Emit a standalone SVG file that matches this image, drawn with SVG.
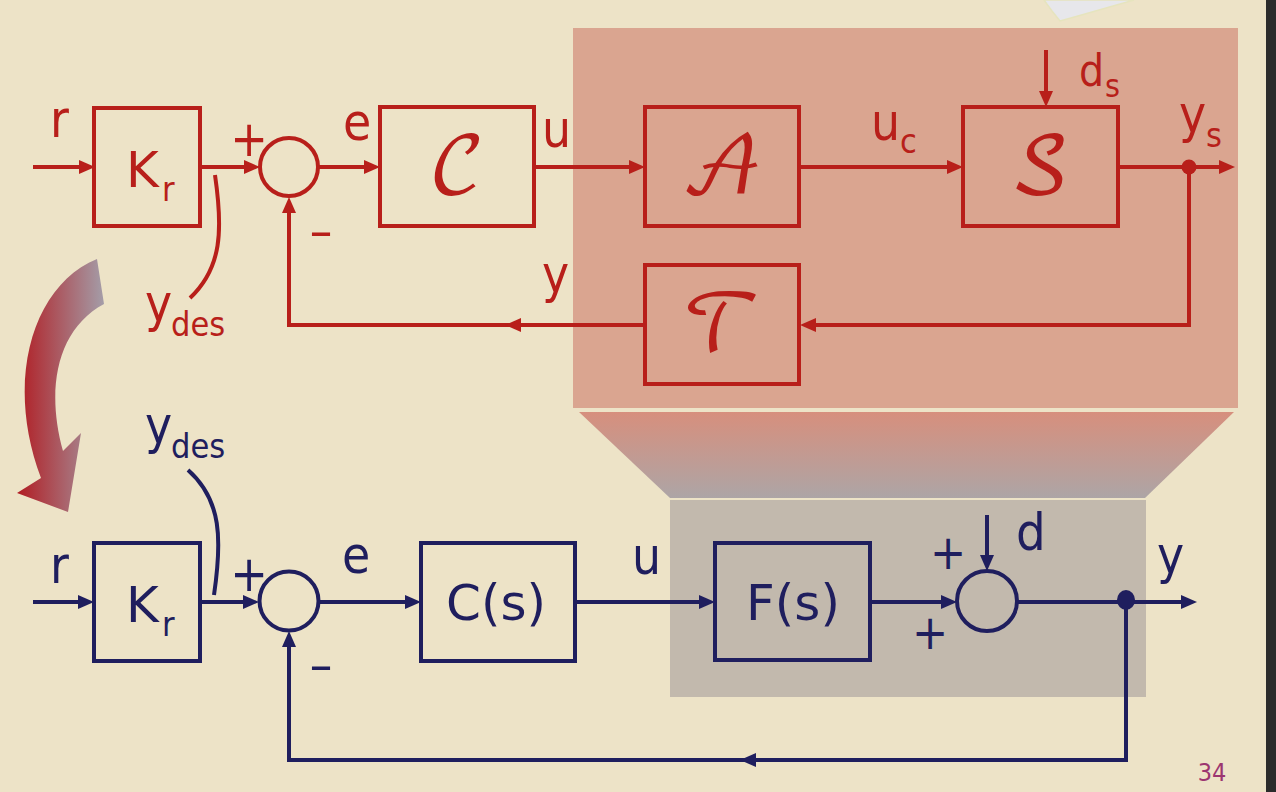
<svg xmlns="http://www.w3.org/2000/svg" width="1276" height="792" viewBox="0 0 1276 792">
<defs>
<style>
.rl{stroke:#B81F1A;stroke-width:4;fill:none}
.nl{stroke:#1F1E5E;stroke-width:4;fill:none}
.rbox{stroke:#B81F1A;stroke-width:4;fill:none}
.nbox{stroke:#1F1E5E;stroke-width:4;fill:none}
text{font-family:"DejaVu Sans Condensed","DejaVu Sans",sans-serif;font-stretch:condensed}
.rt{fill:#B81F1A}
.nt{fill:#1F1E5E}
.lab{font-size:51px}
.sub{font-size:34px}
.big{font-family:"DejaVu Sans",sans-serif;font-stretch:normal;font-size:50px}
.scr{font-family:"DejaVu Math TeX Gyre","Noto Sans Math","DejaVu Serif",serif;font-size:78px;text-anchor:middle;fill:#B81F1A}
</style>
<marker id="ar" markerUnits="userSpaceOnUse" markerWidth="16" markerHeight="14" refX="4" refY="7" orient="auto" viewBox="0 0 16 14">
<path d="M0,0 L16,7 L0,14 Z" fill="#B81F1A"/>
</marker>
<marker id="an" markerUnits="userSpaceOnUse" markerWidth="16" markerHeight="14" refX="4" refY="7" orient="auto" viewBox="0 0 16 14">
<path d="M0,0 L16,7 L0,14 Z" fill="#1F1E5E"/>
</marker>
<linearGradient id="bigArrow" x1="0" y1="0" x2="1" y2="0">
<stop offset="0" stop-color="#B11C22"/>
<stop offset="1" stop-color="#A49DA8"/>
</linearGradient>
<linearGradient id="trap" x1="0" y1="0" x2="0" y2="1">
<stop offset="0" stop-color="#D78F7D"/>
<stop offset="1" stop-color="#ADA5A6"/>
</linearGradient>
</defs>

<rect x="0" y="0" width="1276" height="792" fill="#EDE3C7"/>
<rect x="1266" y="0" width="10" height="792" fill="#2B2B2B"/>
<polygon points="1044,0 1134,0 1078,16 1060,21 1052,11" fill="#E7E7EB" stroke="#E6E4BE" stroke-width="1.5"/>

<g id="shading">
<rect x="573" y="28" width="665" height="380" fill="#DAA590"/>
<polygon points="579,412 1234,412 1145,498 670,498" fill="url(#trap)"/>
<rect x="670" y="500" width="476" height="197" fill="#C2B9AD"/>
</g>

<g id="transform-arrow">
<path d="M97,259 C33,285 4,380 41,478 L17,493 L68,512 L81,433 L63,451 C46,390 56,330 104,304 Z" fill="url(#bigArrow)"/>
</g>

<g id="connectors">
<path class="rl" d="M33,167 H83" marker-end="url(#ar)"/>
<path class="rl" d="M200,167 H248" marker-end="url(#ar)"/>
<path class="rl" d="M318,167 H368" marker-end="url(#ar)"/>
<path class="rl" d="M534,167 H633" marker-end="url(#ar)"/>
<path class="rl" d="M800,167 H951" marker-end="url(#ar)"/>
<path class="rl" d="M1118,167 H1223" marker-end="url(#ar)"/>
<path class="rl" d="M1046,50 V95" marker-end="url(#ar)"/>
<path class="rl" d="M1189,167 V325 H812" marker-end="url(#ar)"/>
<path class="rl" d="M645,325 H289 V209" marker-end="url(#ar)"/>
<path class="rl" d="M520,325 H517" marker-end="url(#ar)"/>
<circle cx="1189" cy="167" r="7.5" fill="#B81F1A"/>
<path class="rl" stroke-width="3" d="M215,175 C223,230 222,268 190,298"/>

<path class="nl" d="M33,602 H82" marker-end="url(#an)"/>
<path class="nl" d="M200,602 H247" marker-end="url(#an)"/>
<path class="nl" d="M319,602 H409" marker-end="url(#an)"/>
<path class="nl" d="M575,602 H703" marker-end="url(#an)"/>
<path class="nl" d="M870,602 H945" marker-end="url(#an)"/>
<path class="nl" d="M987,515 V559" marker-end="url(#an)"/>
<path class="nl" d="M1017,602 H1185" marker-end="url(#an)"/>
<path class="nl" d="M1126,602 V760 H289 V643" marker-end="url(#an)"/>
<path class="nl" d="M755,760 H752" marker-end="url(#an)"/>
<ellipse cx="1126" cy="600" rx="9" ry="10" fill="#1F1E5E"/>
<path class="nl" stroke-width="3" d="M188,470 C222,500 222,540 214,595"/>
</g>

<g id="top-Kr">
<rect class="rbox" x="94" y="108" width="106" height="118"/>
<text class="rt big" x="126" y="187">K</text><text class="rt sub" x="162" y="201">r</text>
</g>
<g id="top-sum">
<circle class="rl" cx="289" cy="167" r="29"/>
</g>
<g id="top-C">
<rect class="rbox" x="380" y="107" width="154" height="119"/>
<text class="scr" x="457" y="193">𝒞</text>
</g>
<g id="top-A">
<rect class="rbox" x="645" y="107" width="154" height="119"/>
<text class="scr" x="722" y="193">𝒜</text>
</g>
<g id="top-S">
<rect class="rbox" x="963" y="107" width="155" height="119"/>
<text class="scr" x="1040" y="193">𝒮</text>
</g>
<g id="top-T">
<rect class="rbox" x="645" y="265" width="154" height="119"/>
<text class="scr" x="722" y="351">𝒯</text>
</g>

<g id="top-labels">
<text class="rt lab" x="50" y="137">r</text>
<text class="rt" font-size="50" x="249" y="156" text-anchor="middle">+</text>
<text class="rt" font-size="50" x="321" y="248" text-anchor="middle">–</text>
<text class="rt lab" x="343" y="140">e</text>
<text class="rt lab" x="542" y="147">u</text>
<text class="rt lab" x="871" y="140">u</text><text class="rt sub" x="900" y="153">c</text>
<text class="rt" font-size="44" x="1079" y="86">d</text><text class="rt" font-size="32" x="1105" y="97">s</text>
<text class="rt lab" x="1179" y="132">y</text><text class="rt sub" x="1206" y="147">s</text>
<text class="rt lab" x="542" y="292">y</text>
<text class="rt lab" x="145" y="321">y</text><text class="rt sub" x="171" y="336">des</text>
</g>

<g id="bot-Kr">
<rect class="nbox" x="94" y="543" width="106" height="118"/>
<text class="nt big" x="126" y="622">K</text><text class="nt sub" x="162" y="636">r</text>
</g>
<g id="bot-sum1">
<circle class="nl" cx="289" cy="601" r="29.5"/>
</g>
<g id="bot-C">
<rect class="nbox" x="421" y="543" width="154" height="118"/>
<text class="nt big" x="496" y="620" text-anchor="middle">C(s)</text>
</g>
<g id="bot-F">
<rect class="nbox" x="715" y="543" width="155" height="117"/>
<text class="nt big" x="793" y="620" text-anchor="middle">F(s)</text>
</g>
<g id="bot-sum2">
<circle class="nl" cx="987" cy="601" r="30"/>
</g>

<g id="bottom-labels">
<text class="nt lab" x="50" y="583">r</text>
<text class="nt" font-size="50" x="249" y="591" text-anchor="middle">+</text>
<text class="nt" font-size="50" x="321" y="682" text-anchor="middle">–</text>
<text class="nt lab" x="342" y="573">e</text>
<text class="nt lab" x="632" y="574">u</text>
<text class="nt" font-size="48" x="948" y="569" text-anchor="middle">+</text>
<text class="nt" font-size="48" x="930" y="649" text-anchor="middle">+</text>
<text class="nt" font-size="52" x="1016" y="550">d</text>
<text class="nt lab" x="1157" y="573">y</text>
<text class="nt lab" x="145" y="443">y</text><text class="nt sub" x="171" y="458">des</text>
</g>

<text x="1212" y="781" font-family="'Liberation Sans',Arial,sans-serif" font-size="25" fill="#9C3670" text-anchor="middle" style="font-stretch:normal">34</text>
</svg>
